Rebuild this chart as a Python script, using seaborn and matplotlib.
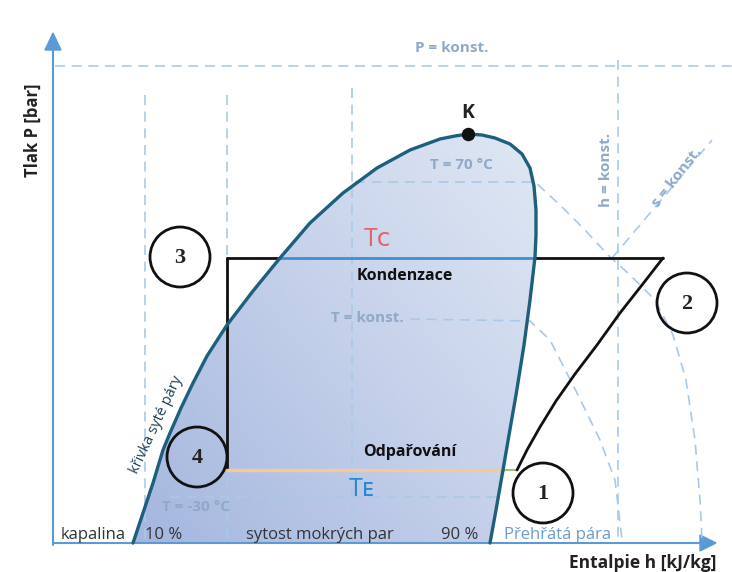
import matplotlib
matplotlib.use("Agg")
import matplotlib.pyplot as plt
import seaborn as sns
import numpy as np
import pandas as pd
from matplotlib.patches import Polygon, Circle
from matplotlib.colors import LinearSegmentedColormap

# p-h diagram, drawn in picture units (x to the right, y downwards)
dome_left_x = [133, 143, 153, 163, 170, 181, 193, 207, 227, 253, 280, 310, 343, 377, 410, 440, 455, 468]
dome_left_y = [543, 513, 483, 450, 433, 408, 383, 356, 325, 291, 258, 223, 193, 168, 150, 139, 136, 134]
dome_right_x = [468, 482, 495, 510, 522, 530, 534, 536, 536, 535, 530, 524, 516, 509, 503, 496, 490]
dome_right_y = [134, 135, 138, 144, 154, 168, 186, 210, 235, 257, 300, 345, 395, 435, 470, 510, 543]

# refrigeration cycle 1-2-3-4
p_cond, p_evap = 258, 470
h_3, h_2, h_1 = 227, 663, 517
h_liq_cond, h_vap_cond, h_vap_evap = 280, 535, 503
comp_x = [517, 527, 540, 556, 575, 597, 620, 642, 663]
comp_y = [470, 450, 427, 401, 374, 345, 313, 285, 258]

# isotherms
iso70_x = [355, 535, 560, 585, 608, 630, 655, 673, 686, 695, 700, 702]
iso70_y = [182, 182, 205, 230, 255, 275, 300, 335, 380, 440, 500, 540]
isok_x = [410, 530, 550, 579, 600, 615, 622]
isok_y = [319, 321, 340, 397, 440, 480, 540]
iso30_x = [170, 500]
iso30_y = [497, 497]
isentrope_x = [612, 712]
isentrope_y = [258, 140]
vert_dashed = [145, 227, 352, 618]
vert_top = [95, 95, 88, 60]

points = ["1", "2", "3", "4"]
point_x = [543, 687, 180, 197]
point_y = [493, 303, 257, 457]

K = (468, 134)

sns.set_style("white")
plt.rcParams['font.family'] = ['Open Sans', 'DejaVu Sans']

fig = plt.figure(figsize=(7.32, 5.72), dpi=100)
ax = fig.add_axes([0, 0, 1, 1])
ax.set_xlim(0, 732)
ax.set_ylim(572, 0)
ax.axis("off")

light = "#a9c9e8"
edge = "#1d5f7d"

# dashed helper lines
ax.plot([55, 732], [66, 66], ls=(0, (6, 4)), color=light, lw=1.2)
for x, top in zip(vert_dashed, vert_top):
    ax.plot([x, x], [top, 540], ls=(0, (6, 4)), color=light, lw=1.2)

# gradient fill of the wet region
dome_x = dome_left_x + dome_right_x[1:]
dome_y = dome_left_y + dome_right_y[1:]
poly = Polygon(np.column_stack([dome_x, dome_y]), closed=True, fc="none", ec="none")
ax.add_patch(poly)
gx, gy = np.meshgrid(np.linspace(0, 1, 200), np.linspace(0, 1, 200))
grad = 0.55 * gx + 0.45 * (1 - gy)
cmap = LinearSegmentedColormap.from_list("dome", ["#a3b6de", "#c4d0ea", "#e0e8f4"])
im = ax.imshow(grad, extent=[130, 540, 545, 130], origin="upper", cmap=cmap,
               aspect="auto", zorder=1)
im.set_clip_path(poly)

for xs, ys in [(iso70_x, iso70_y), (isok_x, isok_y), (iso30_x, iso30_y), (isentrope_x, isentrope_y)]:
    ax.plot(xs, ys, ls=(0, (6, 4)), color=light, lw=1.2, zorder=2)

# saturation dome
dome = pd.DataFrame({"h": dome_x, "p": dome_y})
sns.lineplot(data=dome, x="h", y="p", sort=False, estimator=None, color=edge, lw=2.4, ax=ax, zorder=5)
ax.scatter([K[0]], [K[1]], s=75, color="#111111", zorder=6)

# cycle
ax.plot([h_3, h_liq_cond], [p_cond, p_cond], color="#111111", lw=2, zorder=4)
ax.plot([h_liq_cond, h_vap_cond], [p_cond, p_cond], color="#3f8ed4", lw=2, zorder=4)
ax.plot([h_vap_cond, h_2], [p_cond, p_cond], color="#111111", lw=2, zorder=4)
ax.plot([h_3, h_3], [p_cond, p_evap], color="#111111", lw=2, zorder=4)
ax.plot([h_3, h_vap_evap], [p_evap, p_evap], color="#f3c9a3", lw=2.5, zorder=4)
ax.plot([h_vap_evap, h_1], [p_evap, p_evap], color="#9cc47a", lw=1.5, zorder=4)
comp = pd.DataFrame({"h": comp_x, "p": comp_y})
sns.lineplot(data=comp, x="h", y="p", sort=False, estimator=None, color="#111111", lw=2, ax=ax, zorder=4)

for lab, x, y in zip(points, point_x, point_y):
    ax.add_patch(Circle((x, y), 30, fc="none", ec="#111111", lw=2, zorder=6))
    ax.text(x, y + 1, lab, ha="center", va="center", fontsize=16, fontweight="bold",
            family="Liberation Serif", color="#222222", zorder=7)

# axes arrows
axis_c = "#5b9bd5"
ax.plot([53, 53], [545, 45], color=axis_c, lw=1.5)
ax.plot([53, 700], [543, 543], color=axis_c, lw=1.5)
ax.add_patch(Polygon([[45, 50], [61, 50], [53, 33]], closed=True, color=axis_c))
ax.add_patch(Polygon([[700, 535], [700, 551], [716, 543]], closed=True, color=axis_c))

ax.set_xlabel("")
ax.set_ylabel("")
ax.text(33, 130, "Tlak P [bar]", rotation=90, ha="center", va="center", fontsize=12,
        fontweight="bold", color="#222222")
ax.text(643, 563, "Entalpie h [kJ/kg]", ha="center", va="center", fontsize=12.5,
        fontweight="bold", color="#222222")

txt_c = "#8fa9c9"
ax.text(K[0], 113, "K", ha="center", va="center", fontsize=14, fontweight="bold", color="#222222")
ax.text(452, 48, "P = konst.", ha="center", va="center", fontsize=11, fontweight="bold", color=txt_c)
ax.text(461, 165, "T = 70 °C", ha="center", va="center", fontsize=11, fontweight="bold", color=txt_c)
ax.text(367, 318, "T = konst.", ha="center", va="center", fontsize=11, fontweight="bold", color=txt_c)
ax.text(196, 507, "T = -30 °C", ha="center", va="center", fontsize=11, fontweight="bold", color=txt_c)
ax.text(606, 170, "h = konst.", rotation=90, ha="center", va="center", fontsize=11,
        fontweight="bold", color=txt_c)
ax.text(677, 177, "s = konst.", rotation=52, ha="center", va="center", fontsize=11,
        fontweight="bold", color=txt_c)
ax.text(378, 240, "Tᴄ", ha="center", va="center", fontsize=18, color="#e06666", zorder=7)
ax.text(405, 276, "Kondenzace", ha="center", va="center", fontsize=11.5, fontweight="bold", color="#111111", zorder=7)
ax.text(410, 452, "Odpařování", ha="center", va="center", fontsize=11.5, fontweight="bold", color="#111111", zorder=7)
ax.text(362, 490, "Tᴇ", ha="center", va="center", fontsize=18, color="#2e86d0", zorder=7)
ax.text(157, 425, "křivka syté páry", rotation=65, ha="center", va="center", fontsize=10.5,
        color="#1d3f55", zorder=7)

bottom_y = 535
ax.text(93, bottom_y, "kapalina", ha="center", va="center", fontsize=12, color="#333333", zorder=7)
ax.text(164, bottom_y, "10 %", ha="center", va="center", fontsize=12, color="#333333", zorder=7)
ax.text(320, bottom_y, "sytost mokrých par", ha="center", va="center", fontsize=12, color="#333333", zorder=7)
ax.text(460, bottom_y, "90 %", ha="center", va="center", fontsize=12, color="#333333", zorder=7)
ax.text(558, bottom_y, "Přehřátá pára", ha="center", va="center", fontsize=12, color="#6f9bc8", zorder=7)

fig.savefig("out.png", dpi=100, facecolor="white")
